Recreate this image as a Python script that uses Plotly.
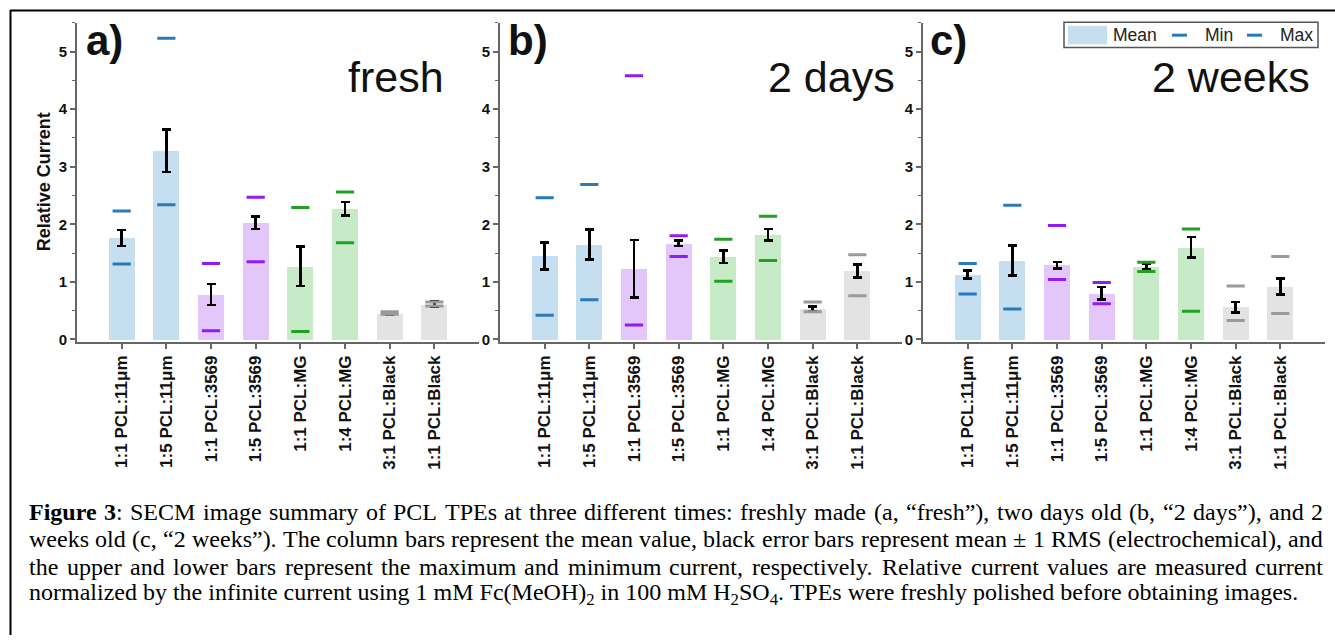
import plotly.graph_objects as go

# ---------------- data ----------------
categories = ["1:1 PCL:11μm", "1:5 PCL:11μm", "1:1 PCL:3569", "1:5 PCL:3569",
              "1:1 PCL:MG", "1:4 PCL:MG", "3:1 PCL:Black", "1:1 PCL:Black"]
panel_labels = ["a)", "b)", "c)"]
panel_titles = ["fresh", "2 days", "2 weeks"]

mean_fresh = [1.76, 3.28, 0.78, 2.03, 1.27, 2.27, 0.45, 0.61]
rms_fresh = [0.14, 0.37, 0.18, 0.11, 0.34, 0.12, 0.02, 0.045]
max_fresh = [2.23, 5.23, 1.32, 2.47, 2.29, 2.56, 0.48, 0.65]
min_fresh = [1.31, 2.34, 0.15, 1.35, 0.14, 1.68, 0.44, 0.58]

mean_2days = [1.45, 1.65, 1.23, 1.67, 1.44, 1.82, 0.53, 1.19]
rms_2days = [0.23, 0.26, 0.50, 0.05, 0.11, 0.10, 0.045, 0.11]
max_2days = [2.46, 2.69, 4.58, 1.80, 1.74, 2.14, 0.65, 1.47]
min_2days = [0.42, 0.69, 0.25, 1.44, 1.01, 1.37, 0.48, 0.76]

mean_2weeks = [1.13, 1.37, 1.29, 0.80, 1.27, 1.60, 0.56, 0.92]
rms_2weeks = [0.07, 0.26, 0.055, 0.11, 0.045, 0.18, 0.09, 0.14]
max_2weeks = [1.32, 2.33, 1.98, 0.99, 1.34, 1.92, 0.93, 1.44]
min_2weeks = [0.79, 0.53, 1.04, 0.62, 1.18, 0.49, 0.33, 0.45]

legend_labels = ["Mean", "Min", "Max"]

caption_lines = [
    "<b>Figure</b> <b>3</b>: SECM image summary of PCL TPEs at three different times: freshly made (a, “fresh”), two days old (b, “2 days”), and 2",
    "weeks old (c, “2 weeks”). The column bars represent the mean value, black error bars represent mean ± 1 RMS (electrochemical), and",
    "the upper and lower bars represent the maximum and minimum current, respectively. Relative current values are measured current",
    "normalized by the infinite current using 1 mM Fc(MeOH)<sub>2</sub> in 100 mM H<sub>2</sub>SO<sub>4</sub>. TPEs were freshly polished before obtaining images.",
]

# ---------------- styles ----------------
W, H = 1335, 641
bar_colors = ["#c5dff0"] * 2 + ["#e3c7fb"] * 2 + ["#c7ebc7"] * 2 + ["#e3e3e3"] * 2
dash_colors = ["#2a7ab8"] * 2 + ["#8f1cf5"] * 2 + ["#22a022"] * 2 + ["#9a9a9a"] * 2
SANS = "Liberation Sans"
SERIF = "Liberation Serif"

x_dom_px = [(77, 479), (500, 902), (923, 1325)]
y_dom_px = (23, 345)


def pxx(x):
    return x / W


def pxy(y):
    return 1 - y / H


panels = [
    (mean_fresh, rms_fresh, max_fresh, min_fresh),
    (mean_2days, rms_2days, max_2days, min_2days),
    (mean_2weeks, rms_2weeks, max_2weeks, min_2weeks),
]

fig = go.Figure()
xs = list(range(len(categories)))

for i, (mean, rms, mx, mn) in enumerate(panels):
    sfx = "" if i == 0 else str(i + 1)
    xa, ya = "x" + sfx, "y" + sfx
    fig.add_trace(go.Bar(
        x=xs, y=mean, width=0.58, xaxis=xa, yaxis=ya,
        marker=dict(color=bar_colors, line=dict(width=0)),
        error_y=dict(type="data", array=rms, color="black", thickness=2.6, width=4.5),
        showlegend=False, name=legend_labels[0]))
    for vals, nm in ((mx, legend_labels[2]), (mn, legend_labels[1])):
        fig.add_trace(go.Scatter(
            x=xs, y=vals, mode="markers", xaxis=xa, yaxis=ya,
            marker=dict(symbol="line-ew", size=13, color=dash_colors,
                        line=dict(width=3, color=dash_colors)),
            showlegend=False, name=nm))

    fig.layout["xaxis" + sfx] = dict(
        domain=[pxx(x_dom_px[i][0]), pxx(x_dom_px[i][1])], anchor=ya,
        range=[-1, 8], tickmode="array", tickvals=xs, ticktext=categories,
        tickangle=-90, ticks="outside", ticklen=5, tickwidth=1.5, tickcolor="#666",
        showline=True, linecolor="#666", linewidth=1.8, showgrid=False, zeroline=False,
        tickfont=dict(family=SANS, size=17, color="#111", weight="bold"), fixedrange=True)
    fig.layout["yaxis" + sfx] = dict(
        domain=[pxy(y_dom_px[1]), pxy(y_dom_px[0])], anchor=xa,
        range=[-0.04, 5.5], tickmode="array", tickvals=[0, 1, 2, 3, 4, 5],
        ticks="outside", ticklen=5, tickwidth=1.5, tickcolor="#666",
        minor=dict(dtick=0.5, tick0=0, ticks="outside", ticklen=3, tickwidth=1.2, tickcolor="#666"),
        showline=True, linecolor="#666", linewidth=1.8, showgrid=False, zeroline=False,
        tickfont=dict(family=SANS, size=15, color="#111", weight="bold"), fixedrange=True)

annotations = []
shapes = []

# y title
annotations.append(dict(x=pxx(44), y=pxy(184), xref="paper", yref="paper", text="<b>Relative Current</b>",
                        textangle=-90, showarrow=False, xanchor="center", yanchor="middle",
                        font=dict(family=SANS, size=18, color="#111")))

# panel letters and titles
letter_x = [84, 506, 928]
title_right = [446, 897, 1312]
for i in range(3):
    annotations.append(dict(x=pxx(letter_x[i]), y=pxy(41), xref="paper", yref="paper",
                            text="<b>" + panel_labels[i] + "</b>", showarrow=False,
                            xanchor="left", yanchor="middle",
                            font=dict(family=SANS, size=42, color="#111")))
    annotations.append(dict(x=pxx(title_right[i]), y=pxy(78), xref="paper", yref="paper",
                            text=panel_titles[i], showarrow=False, xanchor="right", yanchor="middle",
                            font=dict(family=SANS, size=43, color="#111")))

# legend (drawn)
shapes.append(dict(type="rect", xref="paper", yref="paper", x0=pxx(1064), x1=pxx(1318), y0=pxy(48), y1=pxy(22.5),
                   line=dict(color="#555", width=1.5), fillcolor="white", layer="above"))
shapes.append(dict(type="rect", xref="paper", yref="paper", x0=pxx(1068), x1=pxx(1107), y0=pxy(45), y1=pxy(26),
                   line=dict(width=0), fillcolor=bar_colors[0], layer="above"))
for x0, x1 in ((1172, 1187), (1247, 1262)):
    shapes.append(dict(type="line", xref="paper", yref="paper", x0=pxx(x0), x1=pxx(x1), y0=pxy(35.5), y1=pxy(35.5),
                       line=dict(color=dash_colors[0], width=3), layer="above"))
for txt, xl in zip(legend_labels, (1111, 1203, 1278)):
    annotations.append(dict(x=pxx(xl), y=pxy(35.5), xref="paper", yref="paper", text=txt, showarrow=False,
                            xanchor="left", yanchor="middle", font=dict(family=SANS, size=17.5, color="#222")))

# page frame
shapes.append(dict(type="line", xref="paper", yref="paper", x0=pxx(10), x1=1, y0=pxy(10.5), y1=pxy(10.5),
                   line=dict(color="black", width=2)))
shapes.append(dict(type="line", xref="paper", yref="paper", x0=pxx(10.5), x1=pxx(10.5), y0=0, y1=pxy(10),
                   line=dict(color="black", width=2)))

# caption with justified lines (Times metrics)
TR = {" ": 250, "!": 333, "(": 333, ")": 333, ",": 250, "-": 333, ".": 250, ":": 278, ";": 278,
      "“": 444, "”": 444, "±": 564}
for c in "0123456789":
    TR[c] = 500
TR.update(dict(A=722, B=667, C=667, D=722, E=611, F=556, G=722, H=722, I=333, J=389, K=722, L=611, M=889,
               N=722, O=722, P=556, Q=722, R=667, S=556, T=611, U=722, V=722, W=944, X=722, Y=722, Z=611,
               a=444, b=500, c=444, d=500, e=444, f=333, g=500, h=500, i=278, j=278, k=500, l=278, m=778,
               n=500, o=500, p=500, q=500, r=333, s=389, t=278, u=500, v=500, w=722, x=500, y=500, z=444))
TB = dict(TR)
TB.update(dict(F=611, u=556, r=444))


def text_width(s, size):
    w, bold, sub, k = 0.0, False, False, 0
    while k < len(s):
        if s.startswith("<b>", k):
            bold = True; k += 3; continue
        if s.startswith("</b>", k):
            bold = False; k += 4; continue
        if s.startswith("<sub>", k):
            sub = True; k += 5; continue
        if s.startswith("</sub>", k):
            sub = False; k += 6; continue
        tbl = TB if bold else TR
        w += tbl.get(s[k], 500) / 1000.0 * size * (0.7 if sub else 1.0)
        k += 1
    return w


cap_size = 24
cap_left, cap_right = 28, 1322
cap_y = [517, 544.5, 572, 599.5]
for li, line in enumerate(caption_lines):
    if li == len(caption_lines) - 1:
        annotations.append(dict(x=pxx(cap_left), y=pxy(cap_y[li]), xref="paper", yref="paper", text=line,
                                showarrow=False, xanchor="left", yanchor="middle", borderpad=0,
                                font=dict(family=SERIF, size=cap_size, color="black")))
        continue
    words = line.split(" ")
    widths = [text_width(wd, cap_size) for wd in words]
    gap = (cap_right - cap_left - sum(widths)) / (len(words) - 1)
    x = cap_left
    for wd, ww in zip(words, widths):
        annotations.append(dict(x=pxx(x), y=pxy(cap_y[li]), xref="paper", yref="paper", text=wd,
                                showarrow=False, xanchor="left", yanchor="middle", borderpad=0,
                                font=dict(family=SERIF, size=cap_size, color="black")))
        x += ww + gap

fig.update_layout(
    width=W, height=H, autosize=False,
    margin=dict(l=0, r=0, t=0, b=0),
    paper_bgcolor="white", plot_bgcolor="white",
    bargap=0, showlegend=False,
    annotations=annotations, shapes=shapes,
)

fig.write_html("out.html", config={"displayModeBar": False},
               post_script="document.body.style.margin='0px';document.body.style.overflow='hidden';")
